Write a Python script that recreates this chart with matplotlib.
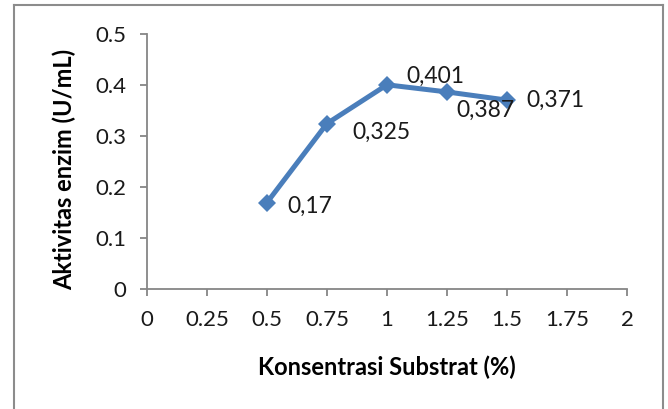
import matplotlib.pyplot as plt
from matplotlib.lines import Line2D

# data
konsentrasi = [0.5, 0.75, 1.0, 1.25, 1.5]
aktivitas = [0.17, 0.325, 0.401, 0.387, 0.371]
label_text = ["0,17", "0,325", "0,401", "0,387", "0,371"]
x_ticks = [0, 0.25, 0.5, 0.75, 1, 1.25, 1.5, 1.75, 2]
x_tick_labels = ["0", "0.25", "0.5", "0.75", "1", "1.25", "1.5", "1.75", "2"]
y_ticks = [0, 0.1, 0.2, 0.3, 0.4, 0.5]
y_tick_labels = ["0", "0.1", "0.2", "0.3", "0.4", "0.5"]

# label offsets in points (placement only)
label_offsets = [(15, -3), (18, -6), (14, 6), (7, -13), (14, 0)]

plt.rcParams["font.family"] = ["Lato", "DejaVu Sans"]

blue = "#4a7ebb"
axis_gray = "#868686"

fig = plt.figure(figsize=(6.68, 4.09), dpi=100)
ax = fig.add_axes([0.220, 0.2927, 0.7186, 0.6234])

ax.plot(konsentrasi, aktivitas, color=blue, linewidth=3.6,
        marker="D", markersize=9, markeredgewidth=0, solid_joinstyle="round")

for x, y, txt, off in zip(konsentrasi, aktivitas, label_text, label_offsets):
    ax.annotate(txt, (x, y), xytext=off, textcoords="offset points",
                ha="left", va="center", fontsize=16.5, color="#1a1a1a")

ax.set_xlim(0, 2)
ax.set_ylim(0, 0.5)
ax.set_xticks(x_ticks)
ax.set_xticklabels(x_tick_labels)
ax.set_yticks(y_ticks)
ax.set_yticklabels(y_tick_labels)

for side in ["top", "right"]:
    ax.spines[side].set_visible(False)
for side in ["left", "bottom"]:
    ax.spines[side].set_color(axis_gray)
    ax.spines[side].set_linewidth(1.3)

ax.tick_params(axis="both", direction="out", length=5, width=1.3,
               color=axis_gray, labelsize=16, labelcolor="#1a1a1a")
ax.tick_params(axis="x", pad=10)
ax.tick_params(axis="y", pad=10)

ax.set_xlabel("Konsentrasi Substrat (%)", fontsize=17, fontweight="bold",
              labelpad=18)
ax.set_ylabel("Aktivitas enzim (U/mL)", fontsize=17, fontweight="bold")
ax.yaxis.set_label_coords(-0.148, 0.472)

# chart area border (bottom edge falls outside the image)
W, H = 668, 409
border = dict(color="#8c8c8c", linewidth=1.5, transform=fig.transFigure)
fig.add_artist(Line2D([14 / W, 14 / W], [0, 1 - 5 / H], **border))
fig.add_artist(Line2D([14 / W, 663 / W], [1 - 5 / H, 1 - 5 / H], **border))
fig.add_artist(Line2D([663 / W, 663 / W], [0, 1 - 5 / H], **border))

fig.savefig("out.png", dpi=100)
